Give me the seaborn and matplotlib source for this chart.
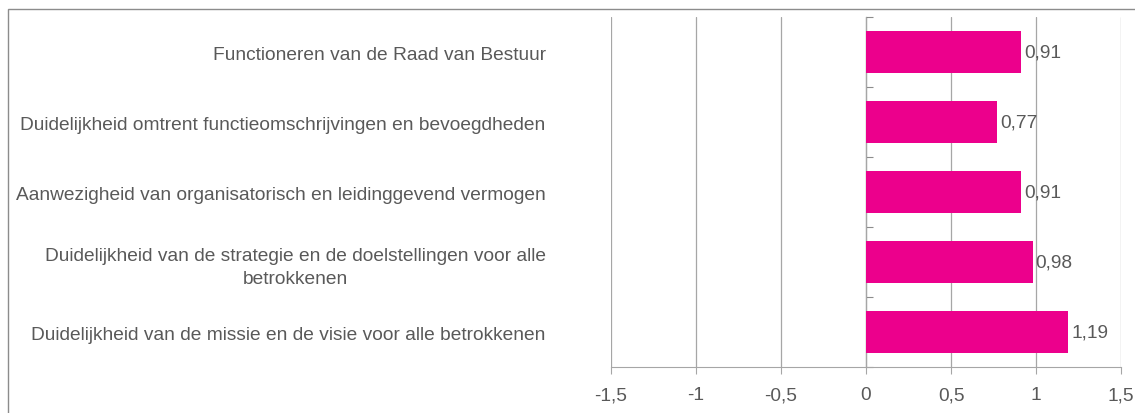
import pandas as pd
import seaborn as sns
import matplotlib.pyplot as plt
from matplotlib.patches import Rectangle

categories = [
    "Functioneren van de Raad van Bestuur",
    "Duidelijkheid omtrent functieomschrijvingen en bevoegdheden",
    "Aanwezigheid van organisatorisch en leidinggevend vermogen",
    "Duidelijkheid van de strategie en de doelstellingen voor alle\nbetrokkenen",
    "Duidelijkheid van de missie en de visie voor alle betrokkenen",
]
values = [0.91, 0.77, 0.91, 0.98, 1.19]
xticks = [-1.5, -1, -0.5, 0, 0.5, 1, 1.5]

df = pd.DataFrame({"categorie": categories, "waarde": values})

sns.set_style("white")
plt.rcParams["font.family"] = ["Liberation Sans", "DejaVu Sans"]

text_col = "#595959"
grid_col = "#a6a6a6"
fs = 13.8

fig = plt.figure(figsize=(11.35, 4.14), dpi=100)
ax = fig.add_axes([0.5383, 0.111, 0.4494, 0.8455])

sns.barplot(data=df, x="waarde", y="categorie", order=categories,
            color="#EC008C", saturation=1, width=0.6, linewidth=0, ax=ax)

ax.set_xlim(-1.5, 1.5)
ax.set_xticks(xticks)
ax.set_xticklabels([f"{t:g}".replace(".", ",") for t in xticks])
ax.xaxis.grid(True, color=grid_col, linewidth=0.9)
ax.set_axisbelow(True)
ax.set_xlabel("")
ax.set_ylabel("")

for s in ["top", "right", "left"]:
    ax.spines[s].set_visible(False)
ax.spines["bottom"].set_color(grid_col)
ax.tick_params(axis="x", direction="out", length=5, color=grid_col,
               labelsize=fs, labelcolor=text_col, pad=9, bottom=True)
ax.tick_params(axis="y", length=0, labelsize=fs, labelcolor=text_col, pad=47)
for lbl in ax.get_yticklabels():
    lbl.set_multialignment("center")
    lbl.set_linespacing(1.45)

# zero line with category-boundary ticks
sec = ax.secondary_yaxis(0.5)
sec.set_yticks([i + 0.5 for i in range(-1, len(categories))])
sec.set_yticklabels([])
sec.spines["left"].set_color("#8c8c8c")
sec.tick_params(axis="y", length=5, color="#8c8c8c")

for i, v in enumerate(values):
    ax.text(v + 0.018, i, f"{v:.2f}".replace(".", ","), va="center", ha="left",
            fontsize=fs, color=text_col)

fig.patches.append(Rectangle((8 / 1135, -0.1), 1.2, 1 - 10 / 414 + 0.1,
                             transform=fig.transFigure, fill=False,
                             edgecolor="#8c8c8c", linewidth=1))

fig.savefig("out.png", dpi=100)
